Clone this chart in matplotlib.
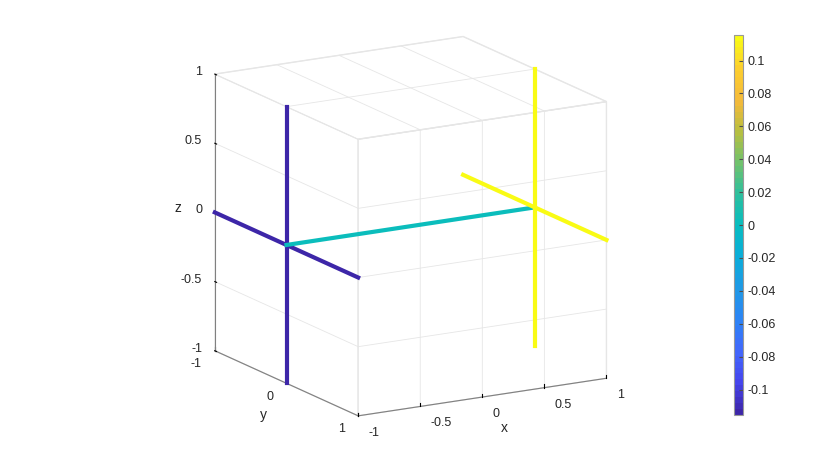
import numpy as np
import matplotlib.pyplot as plt
from matplotlib.colors import LinearSegmentedColormap, Normalize
from matplotlib.ticker import NullFormatter
from matplotlib import cm

plt.rcParams['font.family'] = ['Liberation Sans', 'DejaVu Sans']
plt.rcParams['font.size'] = 9

# segments: start point, end point, colour value
seg_x0 = [-1, -1, -1, 1, 1]
seg_y0 = [-1, 0, 0, -1, 0]
seg_z0 = [0, -1, 0, 0, -1]
seg_x1 = [-1, -1, 1, 1, 1]
seg_y1 = [1, 0, 0, 1, 0]
seg_z1 = [0, 1, 0, 0, 1]
seg_val = [-0.1155, -0.1155, 0.0, 0.1155, 0.1155]

cmin, cmax = -0.1155, 0.1155
cbar_ticks = [-0.1, -0.08, -0.06, -0.04, -0.02, 0, 0.02, 0.04, 0.06, 0.08, 0.1]
cbar_labels = ['-0.1', '-0.08', '-0.06', '-0.04', '-0.02', '0', '0.02', '0.04', '0.06', '0.08', '0.1']
xticks = [-1, -0.5, 0, 0.5, 1]
xlabels = ['-1', '-0.5', '0', '0.5', '1']
yticks = [-1, 0, 1]
ylabels = ['-1', '0', '1']
zticks = [-1, -0.5, 0, 0.5, 1]
zlabels = ['-1', '-0.5', '0', '0.5', '1']

# parula-like colormap
parula_pos = [0.0, 0.08, 0.16, 0.25, 0.33, 0.42, 0.5, 0.58, 0.67, 0.75, 0.83, 0.92, 1.0]
parula_rgb = [(0.24, 0.15, 0.66), (0.27, 0.27, 0.93), (0.26, 0.40, 0.99), (0.17, 0.52, 0.96),
              (0.12, 0.60, 0.90), (0.04, 0.68, 0.85), (0.03, 0.74, 0.75), (0.17, 0.75, 0.62),
              (0.45, 0.76, 0.42), (0.72, 0.75, 0.25), (0.96, 0.73, 0.23), (0.99, 0.81, 0.18),
              (0.977, 0.984, 0.08)]
parula = LinearSegmentedColormap.from_list('parula', list(zip(parula_pos, parula_rgb)), N=64)
norm = Normalize(cmin, cmax)

fig = plt.figure(figsize=(8.3, 4.68), dpi=100)
ax = fig.add_axes([0.0749, -0.0122, 0.824, 1.03], projection='3d')
ax.set_proj_type('ortho')
ax.set_box_aspect((1, 1, 1))
ax.view_init(elev=-15.2, azim=-60)

for i in range(len(seg_val)):
    ax.plot([seg_x0[i], seg_x1[i]], [seg_y0[i], seg_y1[i]], [seg_z0[i], seg_z1[i]],
            color=parula(norm(seg_val[i])), lw=3)

ax.set_xlim(-1, 1)
ax.set_ylim(-1, 1)
ax.set_zlim(-1, 1)
ax.set_xticks(xticks)
ax.set_yticks(yticks)
ax.set_zticks(zticks)
ax.tick_params(axis='both', labelbottom=False, labeltop=False, labelleft=False, labelright=False)
ax.tick_params(axis='z', labelbottom=False, labeltop=False, labelleft=False, labelright=False)

for a in (ax.xaxis, ax.yaxis, ax.zaxis):
    a.set_major_formatter(NullFormatter())
    a.set_ticks_position('lower')
    a.label.set_visible(False)
    a.offsetText.set_visible(False)
    a.set_pane_color((1, 1, 1, 1))
    a.pane.set_edgecolor((0.9, 0.9, 0.9))
    a.line.set_color((0.5, 0.5, 0.5))
    a._axinfo['grid']['color'] = (0.9, 0.9, 0.9)
    a._axinfo['grid']['linewidth'] = 0.6
    a._axinfo['tick']['color'] = (0.5, 0.5, 0.5)
    a._axinfo['tick']['inward_factor'] = 0.0
    a._axinfo['tick']['outward_factor'] = 0.15

# tick labels placed the MATLAB way, just off each axis edge
tc = (0.15, 0.15, 0.15)
for v, s in zip(xticks, xlabels):
    ax.text(v, 1.145, -1.088, s, ha='left', va='center', color=tc)
for v, s in zip(yticks, ylabels):
    ax.text(-1.108, v, -1.084, s, ha='right', va='center', color=tc)
for v, s in zip(zticks, zlabels):
    ax.text(-1.076, -1.045, v + 0.014, s, ha='right', va='center', color=tc)
ax.text(0.03, 1.25, -1.168, 'x', ha='center', va='center', fontsize=10, color=tc)
ax.text(-1.25, 0.114, -1.167, 'y', ha='center', va='center', fontsize=10, color=tc)
ax.text(-1.225, -1.12, 0.033, 'z', ha='center', va='center', fontsize=10, color=tc, rotation=90)

cax = fig.add_axes([0.8843, 0.1132, 0.0108, 0.812])
cb = fig.colorbar(cm.ScalarMappable(norm=norm, cmap=parula), cax=cax)
cb.set_ticks(cbar_ticks)
cb.set_ticklabels(cbar_labels)
cb.outline.set_edgecolor((0.6, 0.6, 0.6))
cax.tick_params(direction='in', length=3, color=(0.3, 0.3, 0.3), labelsize=9, labelcolor=tc)

fig.savefig('out.png', dpi=100)
